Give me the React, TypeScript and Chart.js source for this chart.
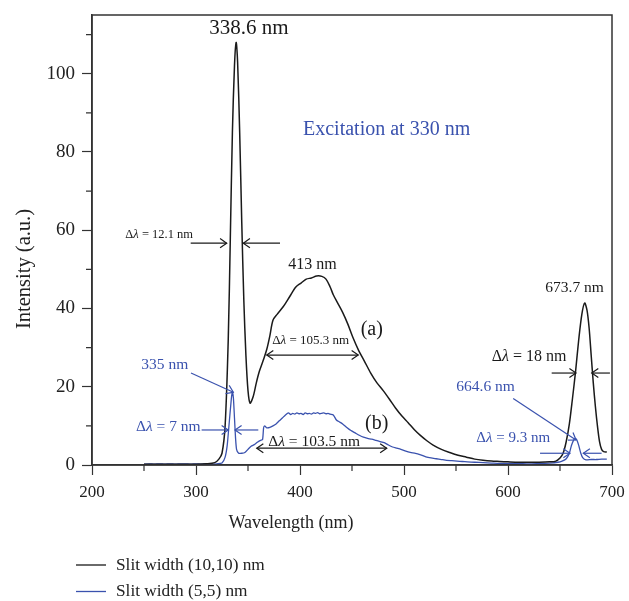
import React, { useEffect, useRef } from 'react';
import { Chart, registerables } from 'chart.js';

Chart.register(...registerables);

const SERIF = '"Liberation Serif", "Times New Roman", serif';
const BLACK = '#1a1a1a';
const BLUE = '#3a52ae';
const AXIS = '#333333';

// Curve (a): slit width (10,10) nm
const wavelengthA = [250, 260, 270, 280, 290, 300, 310, 318, 322, 325, 328, 331, 333, 335, 337, 338.6, 340, 342, 344, 346, 348, 350, 352, 355, 358, 361, 365, 368, 371, 374, 378, 384, 390, 396, 401, 406, 411, 416, 421, 425, 429, 432, 436, 441, 446, 451, 456, 462, 468, 474, 480, 486, 492, 498, 504, 510, 516, 522, 528, 536, 544, 552, 560, 568, 576, 584, 592, 600, 610, 620, 630, 640, 646, 650, 653, 656, 659, 662, 665, 668, 671, 673.7, 676, 678, 680, 682, 684, 686, 688, 690, 692, 695];
const intensityA = [0.2, 0.2, 0.2, 0.2, 0.2, 0.2, 0.3, 0.6, 1.5, 3, 10, 32, 58, 85, 102, 108, 103, 85, 62, 42, 28, 19, 15.8, 17.5, 21, 24, 27, 29.5, 33, 37, 38.5, 40.5, 43, 45.5, 46.5, 47.5, 47.8, 48.3, 48.2, 47.5, 45.5, 43.5, 41.5, 39, 36, 32.5, 29.5, 26.5, 23.5, 21, 19, 16.8, 14.5, 12.5, 10.8, 9, 7.5, 6.2, 5.1, 4, 3.2, 2.5, 2, 1.5, 1.2, 1, 0.9, 0.8, 0.7, 0.7, 0.7, 0.8, 1, 1.8, 3, 6, 10.5, 17, 24, 32, 38.5, 41.4, 39.5, 35, 28, 21, 15, 10, 6, 4, 3.4, 3.3];

// Curve (b): slit width (5,5) nm
const wavelengthB = [250, 255, 260, 265, 270, 275, 280, 285, 290, 295, 300, 305, 310, 315, 320, 325, 328, 330, 332, 334, 335, 336, 337, 338, 339, 341, 344, 347, 350, 353, 356, 359, 362, 364, 365, 366, 368, 371, 374, 377, 380, 383, 386, 389, 391, 393, 395, 397, 399, 401, 403, 405, 407, 409, 411, 413, 415, 417, 419, 421, 423, 425, 427, 429, 432, 435, 438, 441, 445, 449, 453, 457, 461, 465, 469, 473, 477, 481, 485, 489, 493, 497, 501, 506, 511, 516, 521, 526, 531, 536, 541, 546, 551, 556, 561, 568, 576, 584, 592, 600, 610, 620, 630, 640, 648, 652, 656, 659, 661, 663, 664.6, 666, 668, 670, 672, 675, 680, 685, 690, 695];
const intensityB = [0.2, 0.3, 0.2, 0.3, 0.2, 0.3, 0.2, 0.3, 0.3, 0.2, 0.3, 0.2, 0.3, 0.2, 0.3, 0.5, 2, 5, 11, 17, 18.8, 17, 12, 7, 4, 3, 3, 3.2, 4, 4.8, 5.2, 5.8, 6.3, 6.5, 9.5, 10, 9.5, 9.6, 10, 10.5, 11.3, 12, 12.8, 13.3, 12.9, 13.2, 13.0, 13.3, 13.1, 13.2, 12.9, 13.3, 13.1, 13.2, 13.0, 13.3, 13.2, 13.4, 13.1, 13.2, 13.3, 13.1, 13.2, 13.0, 12.8, 11.5, 11, 10.5, 9.6, 8.8, 8.2, 7.6, 7.1, 6.8, 6.6, 6.3, 6, 5.7, 5.1, 4.6, 4.3, 4, 3.6, 3.2, 3, 2.6, 2.1, 1.8, 1.6, 1.4, 1.2, 1.1, 1, 0.9, 0.8, 0.7, 0.6, 0.5, 0.4, 0.4, 0.4, 0.3, 0.4, 0.5, 0.7, 1, 1.6, 3, 5, 6.3, 6.8, 6.5, 5, 3, 1.8, 1.3, 1.4, 1.4, 1.5, 1.5];

const seriesLabels = ['Slit width (10,10) nm', 'Slit width (5,5) nm'];
const xTitle = 'Wavelength (nm)';
const yTitle = 'Intensity (a.u.)';

type Txt = { text: string; x: number; y: number; size: number; color: string; align?: CanvasTextAlign };
type Arrow = { x1: number; y1: number; x2: number; y2: number; color: string; both?: boolean };

const annotationTexts: Txt[] = [
  { text: '338.6 nm', x: 350.9, y: 111.6, size: 21, color: BLACK },
  { text: 'Excitation at 330 nm', x: 402.9, y: 85.7, size: 20, color: BLUE, align: 'left' },
  { text: 'Δλ = 12.1 nm', x: 264.6, y: 58.8, size: 12.5, color: BLACK },
  { text: '413 nm', x: 412, y: 51.2, size: 16, color: BLACK },
  { text: '(a)', x: 469, y: 34.5, size: 20, color: BLACK },
  { text: 'Δλ = 105.3 nm', x: 410.3, y: 31.8, size: 13, color: BLACK },
  { text: '(b)', x: 473.7, y: 10.5, size: 20, color: BLACK },
  { text: 'Δλ = 103.5 nm', x: 413.6, y: 6, size: 15.5, color: BLACK },
  { text: '335 nm', x: 270, y: 25.6, size: 15.5, color: BLUE },
  { text: 'Δλ = 7 nm', x: 273.4, y: 9.8, size: 15.5, color: BLUE },
  { text: '673.7 nm', x: 664, y: 45.2, size: 15.5, color: BLACK },
  { text: 'Δλ = 18 nm', x: 620.3, y: 27.7, size: 16, color: BLACK },
  { text: '664.6 nm', x: 578.4, y: 20, size: 15.5, color: BLUE },
  { text: 'Δλ = 9.3 nm', x: 605, y: 6.8, size: 15, color: BLUE },
];

const annotationArrows: Arrow[] = [
  { x1: 294.9, y1: 56.7, x2: 329.5, y2: 56.7, color: BLACK },
  { x1: 380.8, y1: 56.7, x2: 345.5, y2: 56.7, color: BLACK },
  { x1: 368, y1: 28.1, x2: 456, y2: 28.1, color: BLACK, both: true },
  { x1: 358.4, y1: 4.3, x2: 483.4, y2: 4.3, color: BLACK, both: true },
  { x1: 295.2, y1: 23.5, x2: 335.9, y2: 18.6, color: BLUE },
  { x1: 305.4, y1: 8.95, x2: 331, y2: 8.95, color: BLUE },
  { x1: 359.9, y1: 8.95, x2: 337.5, y2: 8.95, color: BLUE },
  { x1: 642, y1: 23.5, x2: 665.4, y2: 23.5, color: BLACK },
  { x1: 698, y1: 23.5, x2: 680.5, y2: 23.5, color: BLACK },
  { x1: 605, y1: 17, x2: 665.4, y2: 6.4, color: BLUE },
  { x1: 630.8, y1: 3, x2: 659.6, y2: 3, color: BLUE },
  { x1: 690, y1: 3, x2: 672.4, y2: 3, color: BLUE },
];

function drawHead(ctx: CanvasRenderingContext2D, fx: number, fy: number, tx: number, ty: number) {
  const ang = Math.atan2(ty - fy, tx - fx);
  const len = 8;
  const spread = 0.6;
  ctx.beginPath();
  ctx.moveTo(tx - len * Math.cos(ang - spread), ty - len * Math.sin(ang - spread));
  ctx.lineTo(tx, ty);
  ctx.lineTo(tx - len * Math.cos(ang + spread), ty - len * Math.sin(ang + spread));
  ctx.stroke();
}

function drawLabel(ctx: CanvasRenderingContext2D, t: Txt, px: number, py: number) {
  const normal = `${t.size}px ${SERIF}`;
  const italic = `italic ${t.size}px ${SERIF}`;
  let segs: { s: string; f: string }[];
  if (t.text.startsWith('Δλ')) {
    segs = [
      { s: 'Δ', f: normal },
      { s: 'λ', f: italic },
      { s: t.text.slice(2), f: normal },
    ];
  } else {
    segs = [{ s: t.text, f: normal }];
  }
  let total = 0;
  for (const sg of segs) {
    ctx.font = sg.f;
    total += ctx.measureText(sg.s).width;
  }
  let x = t.align === 'left' ? px : px - total / 2;
  ctx.fillStyle = t.color;
  ctx.textBaseline = 'middle';
  ctx.textAlign = 'left';
  for (const sg of segs) {
    ctx.font = sg.f;
    ctx.fillText(sg.s, x, py);
    x += ctx.measureText(sg.s).width;
  }
}

const decorPlugin = {
  id: 'decor',
  afterDraw(chart: any) {
    const { ctx, chartArea: a, scales } = chart;
    const xs = scales.x;
    const ys = scales.y;
    ctx.save();
    ctx.strokeStyle = AXIS;
    ctx.lineWidth = 1.5;
    ctx.strokeRect(a.left, a.top, a.right - a.left, a.bottom - a.top);
    ctx.lineWidth = 1.2;
    ctx.beginPath();
    for (let v = 10; v <= 110; v += 20) {
      const y = ys.getPixelForValue(v);
      ctx.moveTo(a.left - 6, y);
      ctx.lineTo(a.left, y);
    }
    for (let v = 250; v <= 650; v += 100) {
      const x = xs.getPixelForValue(v);
      ctx.moveTo(x, a.bottom);
      ctx.lineTo(x, a.bottom + 6);
    }
    ctx.stroke();

    ctx.lineWidth = 1.2;
    for (const ar of annotationArrows) {
      const x1 = xs.getPixelForValue(ar.x1);
      const y1 = ys.getPixelForValue(ar.y1);
      const x2 = xs.getPixelForValue(ar.x2);
      const y2 = ys.getPixelForValue(ar.y2);
      ctx.strokeStyle = ar.color;
      ctx.beginPath();
      ctx.moveTo(x1, y1);
      ctx.lineTo(x2, y2);
      ctx.stroke();
      drawHead(ctx, x1, y1, x2, y2);
      if (ar.both) drawHead(ctx, x2, y2, x1, y1);
    }
    for (const t of annotationTexts) {
      drawLabel(ctx, t, xs.getPixelForValue(t.x), ys.getPixelForValue(t.y));
    }

    ctx.fillStyle = '#222';
    ctx.font = `18px ${SERIF}`;
    ctx.textAlign = 'center';
    ctx.textBaseline = 'middle';
    ctx.fillText(xTitle, 291, 523);
    ctx.save();
    ctx.translate(25, 269);
    ctx.rotate(-Math.PI / 2);
    ctx.font = `20.5px ${SERIF}`;
    ctx.fillText(yTitle, 0, 0);
    ctx.restore();

    const ds = chart.data.datasets;
    const rows = [565, 591.5];
    ds.forEach((d: any, i: number) => {
      ctx.strokeStyle = d.borderColor;
      ctx.lineWidth = 1.3;
      ctx.beginPath();
      ctx.moveTo(76, rows[i]);
      ctx.lineTo(106, rows[i]);
      ctx.stroke();
      ctx.fillStyle = '#222';
      ctx.font = `17.3px ${SERIF}`;
      ctx.textAlign = 'left';
      ctx.textBaseline = 'middle';
      ctx.fillText(d.label, 116, rows[i]);
    });
    ctx.restore();
  },
};

export default function App() {
  const ref = useRef<HTMLCanvasElement | null>(null);
  useEffect(() => {
    if (!ref.current) return;
    const chart = new Chart(ref.current, {
      type: 'line',
      data: {
        datasets: [
          {
            label: seriesLabels[0],
            data: wavelengthA.map((x, i) => ({ x, y: intensityA[i] })),
            borderColor: BLACK,
            borderWidth: 1.5,
            pointRadius: 0,
            tension: 0.3,
            fill: false,
          },
          {
            label: seriesLabels[1],
            data: wavelengthB.map((x, i) => ({ x, y: intensityB[i] })),
            borderColor: BLUE,
            borderWidth: 1.3,
            pointRadius: 0,
            tension: 0.2,
            fill: false,
          },
        ],
      },
      options: {
        animation: false,
        responsive: true,
        maintainAspectRatio: false,
        layout: { padding: { top: 15, right: 17, left: 0, bottom: 0 } },
        plugins: { legend: { display: false }, title: { display: false }, tooltip: { enabled: false } },
        scales: {
          x: {
            type: 'linear',
            min: 200,
            max: 700,
            border: { display: true, color: AXIS, width: 1.5 },
            grid: { drawOnChartArea: false, drawTicks: true, tickLength: 10, color: AXIS, tickColor: AXIS, tickWidth: 1.2 },
            ticks: { stepSize: 100, color: '#222', font: { family: SERIF, size: 17 }, padding: 7, maxRotation: 0 },
            afterFit: (s: any) => { s.height = 136; s.paddingLeft = 0; s.paddingRight = 0; },
          },
          y: {
            type: 'linear',
            min: 0,
            max: 115,
            border: { display: true, color: AXIS, width: 1.5 },
            grid: { drawOnChartArea: false, drawTicks: true, tickLength: 10, color: AXIS, tickColor: AXIS, tickWidth: 1.2 },
            ticks: { stepSize: 20, includeBounds: false, color: '#222', font: { family: SERIF, size: 19 }, padding: 7 },
            afterFit: (s: any) => { s.width = 92; s.paddingTop = 0; s.paddingBottom = 0; },
          },
        },
      },
      plugins: [decorPlugin],
    } as any);
    return () => chart.destroy();
  }, []);
  return (
    <div style={{ position: 'fixed', left: 0, top: 0, width: 629, height: 601, background: '#fff' }}>
      <canvas ref={ref} />
    </div>
  );
}
